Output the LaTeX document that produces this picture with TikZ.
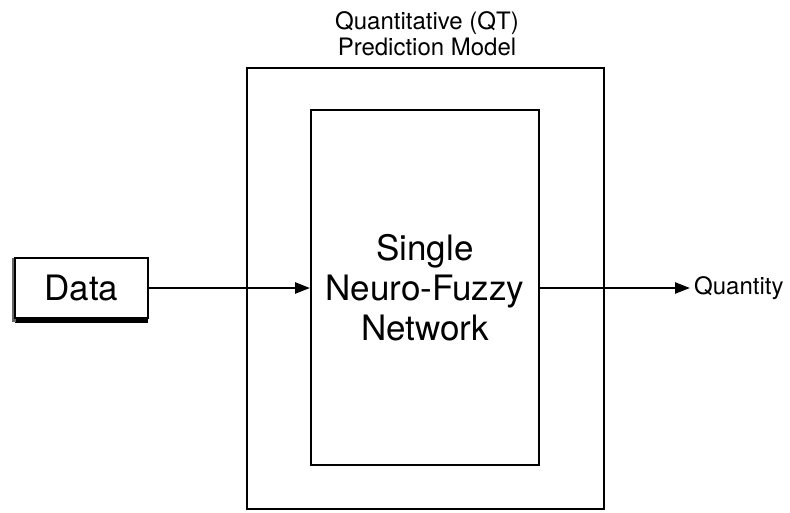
\documentclass[tikz,border=0pt]{standalone}
\usepackage{fontspec}
\setmainfont{TeX Gyre Heros}
\usetikzlibrary{arrows.meta}
\tikzset{
  box/.style={draw=black, line width=2pt, inner sep=0pt, anchor=north west},
  conn/.style={line width=2.4pt, -{Triangle[length=15pt,width=11pt]}},
}
\begin{document}
\begin{tikzpicture}[x=1pt,y=-1pt]
\useasboundingbox (0,0) rectangle (790,512);
% title
\node[align=center, font=\fontsize{24}{26}\selectfont] (title) at (427,34) {Quantitative (QT)\\Prediction Model};
% outer box
\node[box, line width=2.4pt, minimum width=357pt, minimum height=441pt] (outer) at (246,67) {};
% inner box
\node[box, line width=2pt, minimum width=228pt, minimum height=355pt] (inner) at (310,109) {};
\node[align=center, font=\fontsize{35}{40}\selectfont] (nf) at (inner.center) {Single\\Neuro-Fuzzy\\Network};
% data box with shadow
\fill[black] (15,316) rectangle (148,323);
\fill[black!60] (12,258) rectangle (16,322);
\node[box, fill=white, line width=1.8pt, minimum width=133pt, minimum height=60pt, font=\fontsize{35}{40}\selectfont] (data) at (14,257) {Data};
% output label
\node[anchor=west, inner sep=0pt, font=\fontsize{24}{28}\selectfont] (qty) at (694,288) {Quantity};
\coordinate (qend) at (690,288);
% connectors
\draw[conn] (data.east |- 0,288) -- (inner.west |- 0,288);
\draw[conn] (inner.east |- 0,288) -- (qend);
\end{tikzpicture}
\end{document}
